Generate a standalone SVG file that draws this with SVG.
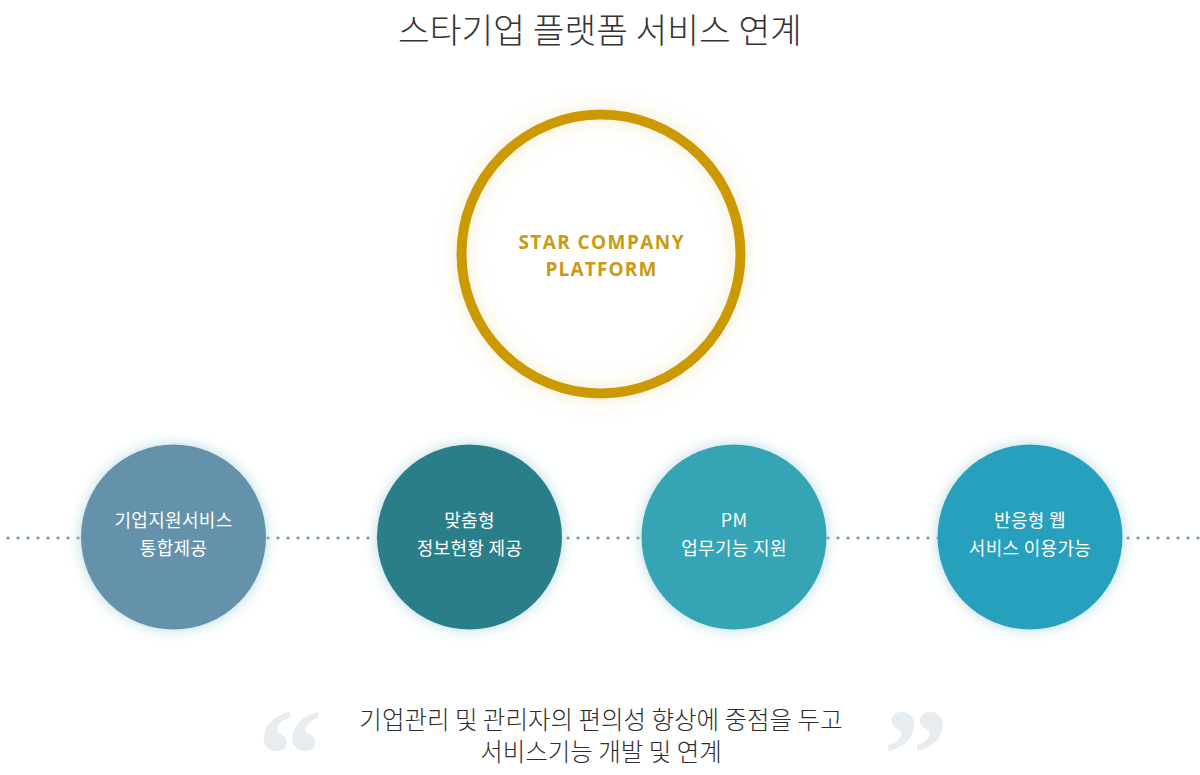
<svg xmlns="http://www.w3.org/2000/svg" width="1200" height="775" viewBox="0 0 1200 775">
<defs>
<style>
.kr{font-family:"Noto Sans CJK KR","Noto Sans",sans-serif;}
.title{font-size:34.5px;fill:#333;font-weight:300;}
.lbl{font-size:18px;fill:#fff;font-weight:400;text-anchor:middle;letter-spacing:0.3px;}
.hub{font-family:"Open Sans","Liberation Sans",sans-serif;font-size:19px;font-weight:700;fill:#c99a12;text-anchor:middle;}
.quote{font-family:"Liberation Serif","DejaVu Serif",serif;font-weight:700;fill:#e6ecef;}
.desc{font-size:24.5px;fill:#2e2e2e;text-anchor:middle;font-weight:300;}
.dots{stroke:#6b93a9;stroke-width:3.2;stroke-linecap:round;stroke-dasharray:0 10;fill:none;}
</style>
<filter id="glowBlue" x="-30%" y="-30%" width="160%" height="160%">
<feGaussianBlur in="SourceAlpha" stdDeviation="7" result="b"/>
<feFlood flood-color="#a9d2de" flood-opacity="0.85"/>
<feComposite in2="b" operator="in" result="s"/>
<feMerge><feMergeNode in="s"/><feMergeNode in="SourceGraphic"/></feMerge>
</filter>
<filter id="glowGold" x="-30%" y="-30%" width="160%" height="160%">
<feGaussianBlur in="SourceAlpha" stdDeviation="9" result="b"/>
<feFlood flood-color="#efdb9c" flood-opacity="0.65"/>
<feComposite in2="b" operator="in" result="s"/>
<feMerge><feMergeNode in="s"/><feMergeNode in="SourceGraphic"/></feMerge>
</filter>
</defs>
<rect width="1200" height="775" fill="#fff"/>
<text class="kr title" x="600" y="43" text-anchor="middle">스타기업 플랫폼 서비스 연계</text>

<g id="connectors">
<line class="dots" x1="8" y1="538" x2="1200" y2="538"/>
</g>

<g id="hub">
<circle cx="601" cy="254" r="139.5" fill="none" stroke="#cc9a00" stroke-width="10" filter="url(#glowGold)"/>
<text class="hub" x="601" y="249" textLength="165" lengthAdjust="spacing">STAR COMPANY</text>
<text class="hub" x="601" y="276" textLength="111" lengthAdjust="spacing">PLATFORM</text>
</g>

<g id="node1">
<circle cx="173.5" cy="537" r="92.5" fill="#6392aa" filter="url(#glowBlue)"/>
<text class="kr lbl" x="173.5" y="527">기업지원서비스</text>
<text class="kr lbl" x="173.5" y="555">통합제공</text>
</g>
<g id="node2">
<circle cx="469.5" cy="537" r="92.5" fill="#2a7e89" filter="url(#glowBlue)"/>
<text class="kr lbl" x="469.5" y="527">맞춤형</text>
<text class="kr lbl" x="469.5" y="555">정보현황 제공</text>
</g>
<g id="node3">
<circle cx="734" cy="537" r="92.5" fill="#36a5b5" filter="url(#glowBlue)"/>
<text class="kr lbl" x="734" y="527">PM</text>
<text class="kr lbl" x="734" y="555">업무기능 지원</text>
</g>
<g id="node4">
<circle cx="1030" cy="537" r="92.5" fill="#26a0bd" filter="url(#glowBlue)"/>
<text class="kr lbl" x="1030" y="527">반응형 웹</text>
<text class="kr lbl" x="1030" y="555">서비스 이용가능</text>
</g>

<g id="quote">
<text class="quote" x="290" y="798" font-size="130" text-anchor="middle">“</text>
<text class="quote" x="916" y="798" font-size="130" text-anchor="middle">”</text>
<text class="kr desc" x="601" y="729">기업관리 및 관리자의 편의성 향상에 중점을 두고</text>
<text class="kr desc" x="601" y="761">서비스기능 개발 및 연계</text>
</g>
</svg>
